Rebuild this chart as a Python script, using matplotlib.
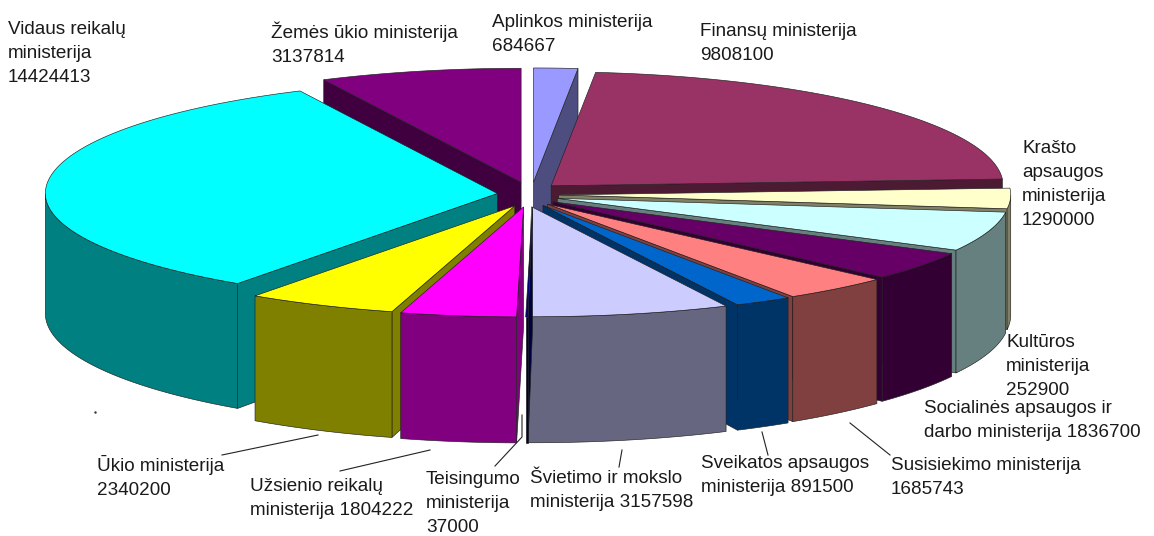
import numpy as np
import matplotlib
matplotlib.use("Agg")
import matplotlib.pyplot as plt
from matplotlib.colors import to_rgb

plt.rcParams['font.family'] = ['Liberation Sans', 'DejaVu Sans']

names = ["Aplinkos", "Finansu", "Krasto", "Kulturos", "Socialines", "Susisiekimo", "Sveikatos",
         "Svietimo", "Teisingumo", "Uzsienio", "Ukio", "Vidaus", "Zemes"]
# slice sizes (the Kultūros label is cut off in the picture; its slice reads as about 2529000)
values = [684667, 9808100, 1290000, 2529000, 1836700, 1685743, 891500,
          3157598, 37000, 1804222, 2340200, 14424413, 3137814]
colors = ["#9999FF", "#993366", "#FFFFCC", "#CCFFFF", "#660066", "#FF8080", "#0066CC",
          "#CCCCFF", "#000080", "#FF00FF", "#FFFF00", "#00FFFF", "#800080"]
# extra horizontal displacement of single slices, in pixels
nudges = [4, 1, 0, 0, 0, 0, 0, -3, 5, 0, 0, 0, 0]
labels = [
    ("Aplinkos ministerija\n684667", 492, 14),
    ("Finansų ministerija\n9808100", 700, 23),
    ("Krašto\napsaugos\nministerija\n1290000", 1022, 140),
    ("Kultūros\nministerija\n252900", 1006, 334),
    ("Socialinės apsaugos ir\ndarbo ministerija 1836700", 924, 400),
    ("Susisiekimo ministerija\n1685743", 891, 457),
    ("Sveikatos apsaugos\nministerija 891500", 701, 455),
    ("Švietimo ir mokslo\nministerija 3157598", 530, 470),
    ("Teisingumo\nministerija\n37000", 426, 471),
    ("Užsienio reikalų\nministerija 1804222", 250, 478),
    ("Ūkio ministerija\n2340200", 97, 455),
    ("Vidaus reikalų\nministerija\n14424413", 8, 21),
    ("Žemės ūkio ministerija\n3137814", 271, 21),
]
leaders = [[(762, 432), (768, 455)], [(850, 423), (890, 455)], [(622, 450), (619, 467)],
           [(522, 415), (522, 437), (495, 466)], [(430, 450), (340, 471)], [(318, 435), (222, 455)]]

CX, CY = 528, 194.5
RX, RY_BACK, RY_FRONT = 452, 114, 110
DEPTH = 120
EXPLODE_X, EXPLODE_Y = 0.068, 0.11
W, H = 1154, 536

fig = plt.figure(figsize=(W / 100, H / 100), dpi=100, facecolor="white")
ax = fig.add_axes([0, 0, 1, 1])
ax.set_xlim(0, W)
ax.set_ylim(H, 0)
ax.axis("off")


def proj(theta, r, ox=0.0, oy=0.0):
    c = r * np.cos(theta)
    return CX + ox + r * np.sin(theta) * RX, CY - oy - c * np.where(c > 0, RY_BACK, RY_FRONT)


def depth(theta, r=1.0):
    return DEPTH * (1 - 0.05 * r * np.cos(theta))


def dark(c):
    return tuple(v * 0.5 for v in to_rgb(c))


edges = np.cumsum([0] + values) / sum(values) * 2 * np.pi
order = sorted(range(len(values)), key=lambda i: np.cos((edges[i] + edges[i + 1]) / 2), reverse=True)
EDGE = "#202020"
for i in order:
    a, b = edges[i], edges[i + 1]
    mid = (a + b) / 2
    ox = EXPLODE_X * np.sin(mid) * RX + nudges[i]
    oy = EXPLODE_Y * np.cos(mid) * RY_BACK
    t = np.linspace(a, b, 160)
    xr, yr = proj(t, 1.0, ox, oy)
    x0, y0 = proj(0.0, 0.0, ox, oy)
    lw = 0.45
    # cut faces, only those turned to the viewer
    for ang, visible in ((a, np.sin(a) < 0), (b, np.sin(b) > 0)):
        if visible:
            ex, ey = proj(ang, 1.0, ox, oy)
            ax.fill([x0, ex, ex, x0], [y0, ey, ey + depth(ang), y0 + DEPTH], fc=dark(colors[i]),
                    ec=EDGE, lw=lw, zorder=1)
    # rim: only the part facing the viewer
    front = (t >= np.pi / 2) & (t <= 3 * np.pi / 2)
    if front.any():
        fx, fy = xr[front], yr[front]
        ax.fill(np.r_[fx, fx[::-1]], np.r_[fy, (fy + depth(t[front]))[::-1]], fc=dark(colors[i]),
                ec=EDGE, lw=lw, zorder=1)
    # top
    ax.fill(np.r_[x0, xr], np.r_[y0, yr], fc=colors[i], ec=EDGE, lw=lw, zorder=1)

for pts in leaders:
    ax.plot([p[0] for p in pts], [p[1] for p in pts], color="#222222", lw=0.8, zorder=2)

for txt, x, y in labels:
    ax.text(x, y, txt, fontsize=13.6, color="#1a1a1a", ha="left", va="top", linespacing=1.55, zorder=3)
ax.plot([95], [412], marker=".", ms=1.5, color="#333333")

fig.savefig("out.png", dpi=100, facecolor="white")
